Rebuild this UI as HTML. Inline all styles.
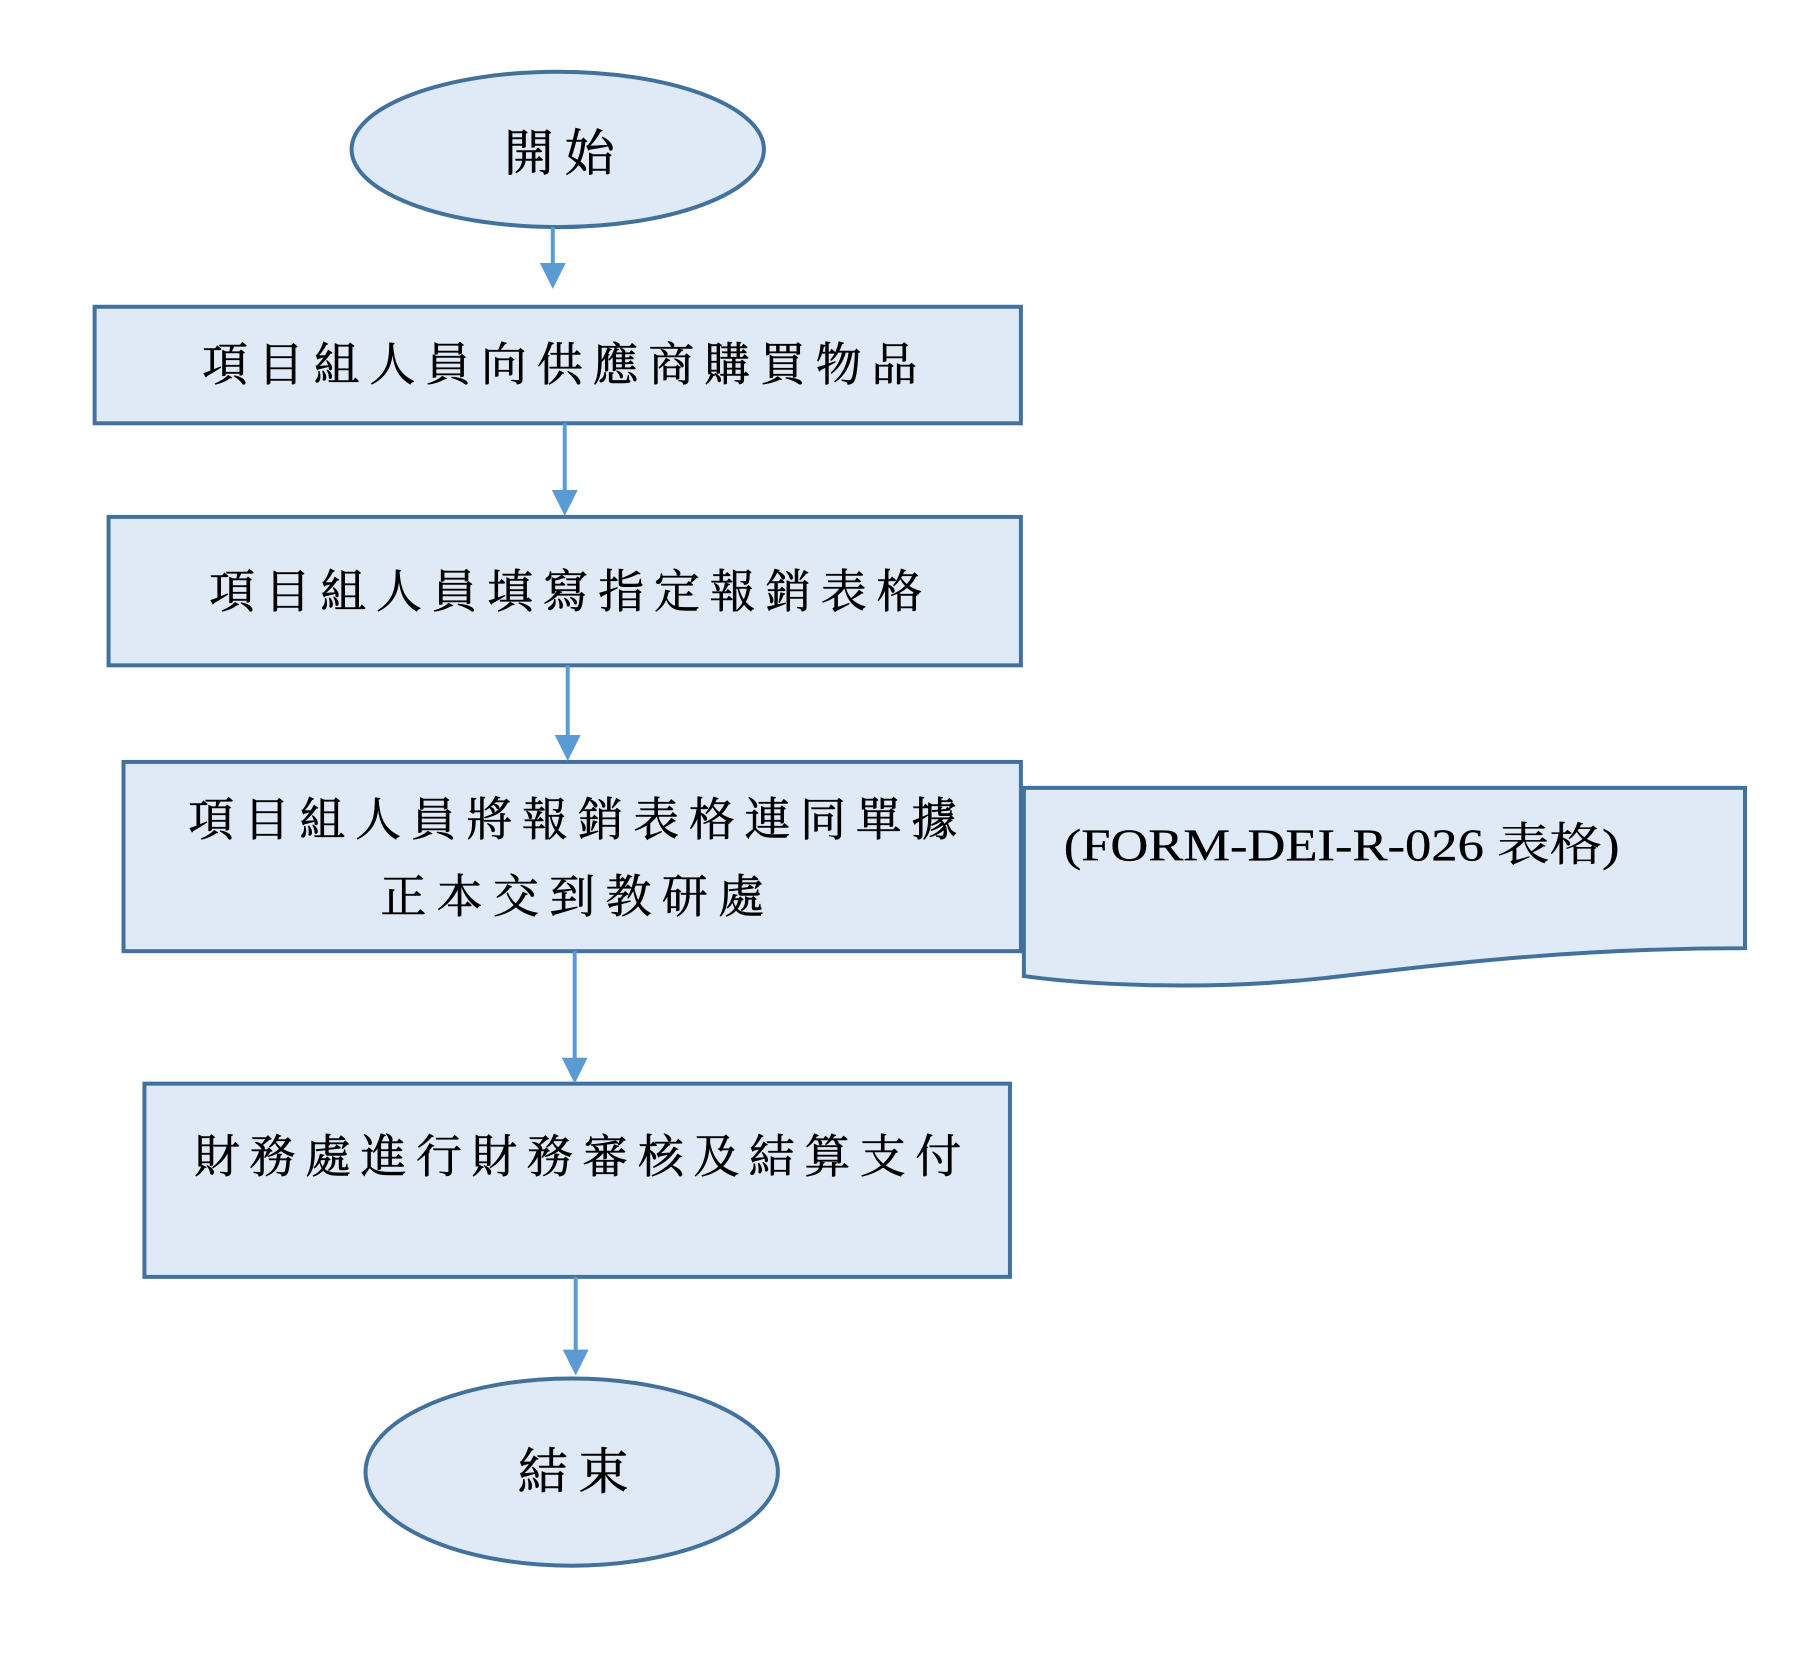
<!DOCTYPE html>
<html><head><meta charset="utf-8"><style>html,body{margin:0;padding:0;background:#fff}svg{display:block}</style></head>
<body>
<svg width="1808" height="1653" viewBox="0 0 1808 1653" xmlns="http://www.w3.org/2000/svg">
<g transform="scale(0.996)">
<g fill="#dfeaf6" stroke="#41719c" stroke-width="4">
<ellipse cx="560" cy="150" rx="207" ry="78"/>
<rect x="95" y="308" width="930" height="117"/>
<rect x="109" y="519" width="916" height="149"/>
<rect x="124" y="765" width="901" height="190"/>
<path d="M1028,791 L1752,791 L1752,952 C1560,952 1420,972 1330,982 C1220,994 1100,990 1028,980 Z"/>
<rect x="145" y="1088" width="869" height="194"/>
<ellipse cx="574" cy="1478" rx="207" ry="94"/>
</g>
<g stroke="#5b9bd5" stroke-width="4" fill="#5b9bd5">
<line x1="555" y1="228" x2="555" y2="268"/><path d="M542,264 L568,264 L555,290 Z" stroke="none"/>
<line x1="567" y1="425" x2="567" y2="496"/><path d="M554,492 L580,492 L567,518 Z" stroke="none"/>
<line x1="570" y1="668" x2="570" y2="742"/><path d="M557,738 L583,738 L570,764 Z" stroke="none"/>
<line x1="577" y1="955" x2="577" y2="1066"/><path d="M564,1062 L590,1062 L577,1088 Z" stroke="none"/>
<line x1="578" y1="1282" x2="578" y2="1359"/><path d="M565,1355 L591,1355 L578,1381 Z" stroke="none"/>
</g>
<g font-family="'Liberation Serif','Noto Serif CJK SC','Noto Serif CJK TC',serif" font-size="46" fill="#000" stroke="#000" stroke-width="0.6">
<text x="506" y="171" textLength="111" lengthAdjust="spacing" font-size="50">開始</text>
<text x="203" y="382" textLength="718" lengthAdjust="spacing">項目組人員向供應商購買物品</text>
<text x="210" y="610" textLength="716" lengthAdjust="spacing">項目組人員填寫指定報銷表格</text>
<text x="189" y="839" textLength="772" lengthAdjust="spacing">項目組人員將報銷表格連同單據</text>
<text x="382" y="916" textLength="385" lengthAdjust="spacing">正本交到教研處</text>
<text x="195" y="1177" textLength="770" lengthAdjust="spacing">財務處進行財務審核及結算支付</text>
<text x="520" y="1495" textLength="111" lengthAdjust="spacing" font-size="50">結束</text>
<text x="1068" y="864" textLength="558" lengthAdjust="spacingAndGlyphs" font-size="46" stroke-width="0.3">(FORM-DEI-R-026 表格)</text>
</g>
</g>
</svg>
</body></html>
